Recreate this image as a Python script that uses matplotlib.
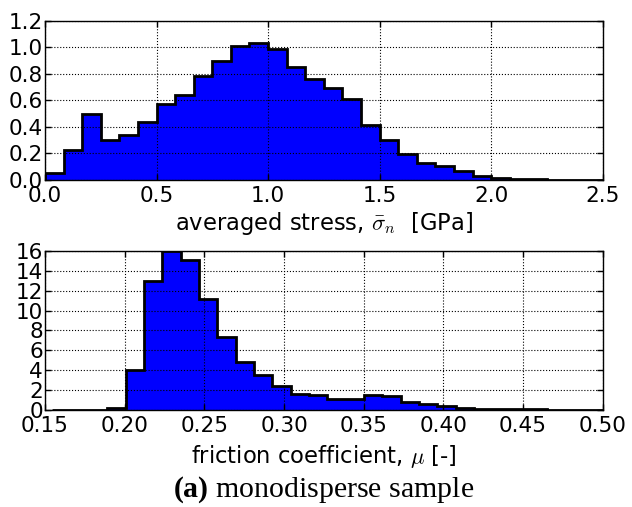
import numpy as np
import matplotlib
matplotlib.use("Agg")
import matplotlib.pyplot as plt

plt.rcParams['mathtext.fontset'] = 'cm'
plt.rcParams['mathtext.bf'] = 'Liberation Serif:bold'
plt.rcParams['mathtext.rm'] = 'Liberation Serif'
plt.rcParams['mathtext.it'] = 'Liberation Serif:italic'
plt.rcParams['font.family'] = ['DejaVu Sans']

# ---- data: averaged stress histogram (30 bins, 0 .. 2.5 GPa) ----
stress_range = (0.0, 2.5)
stress_density = [0.05, 0.225, 0.495, 0.305, 0.34, 0.435, 0.575, 0.64, 0.785, 0.90,
                  1.015, 1.035, 0.985, 0.85, 0.765, 0.695, 0.61, 0.415, 0.30, 0.195,
                  0.125, 0.108, 0.065, 0.028, 0.018, 0.008, 0.004, 0.003, 0.002, 0.001]

# ---- data: friction coefficient histogram (30 bins, 0.1546 .. 0.4999) ----
mu_range = (0.1546, 0.4999)
mu_density = [0.02, 0.02, 0.03, 0.2, 4.0, 13.0, 16.0, 15.1, 11.2, 7.3,
              4.8, 3.5, 2.4, 1.65, 1.55, 1.08, 1.14, 1.5, 1.41, 0.84,
              0.57, 0.38, 0.22, 0.14, 0.1, 0.08, 0.06, 0.05, 0.04, 0.03]

stress_ticks = [0.0, 0.5, 1.0, 1.5, 2.0, 2.5]
stress_yticks = [0.0, 0.2, 0.4, 0.6, 0.8, 1.0, 1.2]
mu_ticks = [0.15, 0.20, 0.25, 0.30, 0.35, 0.40, 0.45, 0.50]
mu_yticks = [0, 2, 4, 6, 8, 10, 12, 14, 16]

fig = plt.figure(figsize=(6.32, 5.07), dpi=100, facecolor='white')
L, R = 0.0712, 0.9536
ax1 = fig.add_axes([L, 0.645, R - L, 0.9586 - 0.645])
ax2 = fig.add_axes([L, 0.1913, R - L, 0.505 - 0.1913])

def style(ax, xticks, yticks, xfmt, yfmt):
    ax.set_xticks(xticks)
    ax.set_yticks(yticks)
    ax.set_xticklabels([xfmt.format(t) for t in xticks])
    ax.set_yticklabels([yfmt.format(t) for t in yticks])
    ax.grid(True, color='black', linestyle=':', linewidth=0.8)
    ax.set_axisbelow(False)
    ax.tick_params(direction='in', top=True, right=True, length=4, width=1,
                   labelsize=15.5)
    ax.tick_params(axis='x', pad=4)
    ax.tick_params(axis='y', pad=1.5)
    for s in ax.spines.values():
        s.set_linewidth(1.0)

edges1 = np.linspace(stress_range[0], stress_range[1], len(stress_density) + 1)
ax1.stairs(stress_density, edges1, fill=True, facecolor='blue', edgecolor='none', zorder=1)
ax1.stairs(stress_density, edges1, fill=False, color='black', linewidth=2, zorder=3,
           baseline=0)
ax1.set_xlim(0, 2.5)
ax1.set_ylim(0, 1.2)
style(ax1, stress_ticks, stress_yticks, '{:.1f}', '{:.1f}')
ax1.set_xlabel('averaged stress, $\\bar{\\sigma}_n$  [GPa]', fontsize=16.3, labelpad=3)

edges2 = np.linspace(mu_range[0], mu_range[1], len(mu_density) + 1)
ax2.stairs(mu_density, edges2, fill=True, facecolor='blue', edgecolor='none', zorder=1)
ax2.stairs(mu_density, edges2, fill=False, color='black', linewidth=2, zorder=3,
           baseline=0)
ax2.set_xlim(0.15, 0.5)
ax2.set_ylim(0, 16)
style(ax2, mu_ticks, mu_yticks, '{:.2f}', '{:d}')
ax2.set_xlabel(r'friction coefficient, $\mu$ [-]', fontsize=16.3, labelpad=5)

fig.text((L + R) / 2, 0.0197, r'$\mathbf{(a)}$ monodisperse sample', ha='center',
         va='baseline', fontsize=21.5, family='Liberation Serif',
         math_fontfamily='custom')

fig.savefig('out.png', dpi=100, facecolor='white')
